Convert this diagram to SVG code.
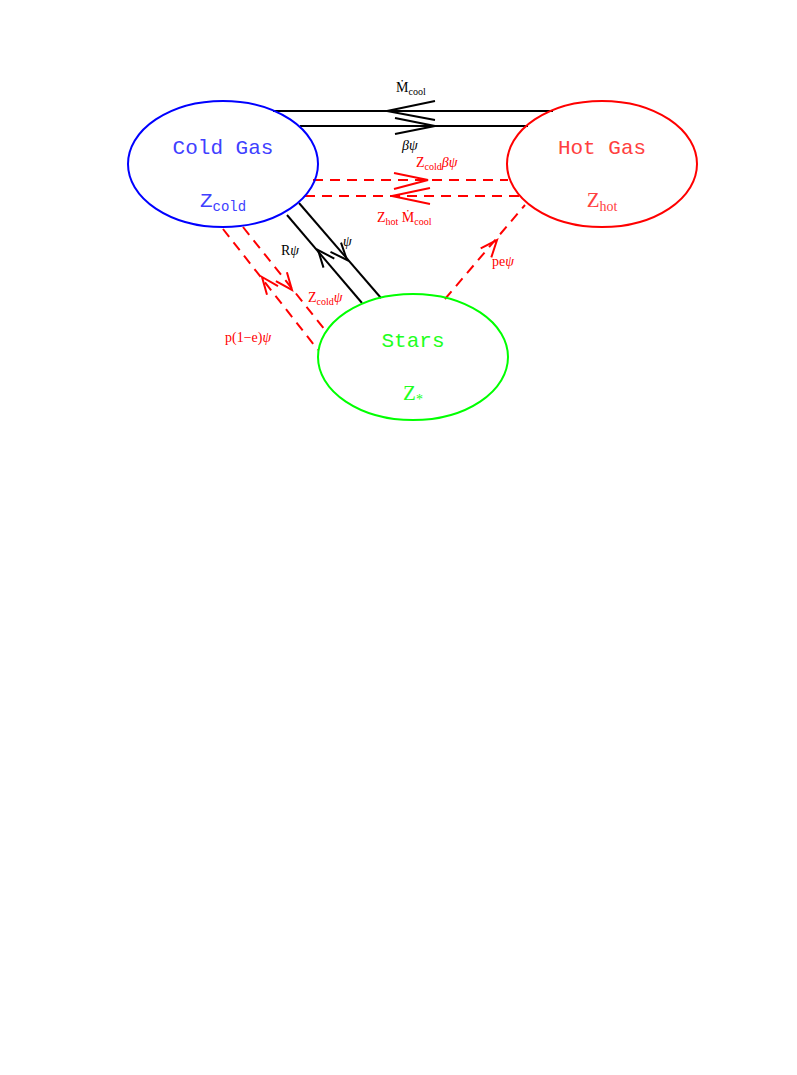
<svg xmlns="http://www.w3.org/2000/svg" width="797" height="1075" viewBox="0 0 797 1075">
<style>
.n{fill:none;stroke-width:2}
.k{stroke:#000;fill:none;stroke-width:2}
.r{stroke:#f00;fill:none;stroke-width:2}
.d{stroke-dasharray:10,7}
.t{font-family:"Liberation Mono",monospace;font-size:21px;text-anchor:middle}
.s{font-family:"Liberation Serif",serif;font-size:14px}
.sub{font-size:10px}
</style>
<rect width="797" height="1075" fill="#fff"/>
<g id="connectors">
<line class="k" x1="273" y1="111" x2="553" y2="111"/>
<polyline class="k" points="435,101 387,111 435,120"/>
<line class="k" x1="300" y1="126" x2="528" y2="126"/>
<polyline class="k" points="395,118 435,126 395,134"/>
<line class="r d" x1="313" y1="180" x2="508" y2="180"/>
<polyline class="r" points="394,173 428,180 394,189"/>
<line class="r d" x1="305" y1="196" x2="520" y2="196"/>
<polyline class="r" points="430,188 392,196 430,204"/>
<line class="k" x1="299" y1="203" x2="381" y2="298"/>
<polyline class="k" points="330.5,251.8 347,260 341,242.6"/>
<line class="k" x1="287" y1="215" x2="362" y2="303"/>
<polyline class="k" points="334.3,258.6 318,250 323.5,267.6"/>
<line class="r d" x1="223" y1="229" x2="318" y2="350"/>
<polyline class="r" points="278,286.1 262,277 267,294.7"/>
<line class="r d" x1="243" y1="227" x2="325" y2="330"/>
<polyline class="r" points="275.9,281.1 292,290 286.9,272.3"/>
<line class="r d" x1="445" y1="299" x2="525" y2="205"/>
<polyline class="r" points="491.3,257.4 497,240 480.7,248.4"/>
<text class="s" x="396" y="92">Ṁ<tspan class="sub" dy="3">cool</tspan></text>
<text class="s" x="402" y="150"><tspan font-style="italic">βψ</tspan></text>
<text class="s" x="416" y="167" fill="#f00">Z<tspan class="sub" dy="3">cold</tspan><tspan dy="-3" font-style="italic">βψ</tspan></text>
<text class="s" x="377" y="222" fill="#f00">Z<tspan class="sub" dy="3">hot</tspan><tspan dy="-3"> Ṁ</tspan><tspan class="sub" dy="3">cool</tspan></text>
<text class="s" x="281" y="255">R<tspan font-style="italic">ψ</tspan></text>
<text class="s" x="343" y="246" font-style="italic">ψ</text>
<text class="s" x="308" y="302" fill="#f00">Z<tspan class="sub" dy="3">cold</tspan><tspan dy="-3" font-style="italic">ψ</tspan></text>
<text class="s" x="225" y="342" fill="#f00">p(1−e)<tspan font-style="italic">ψ</tspan></text>
<text class="s" x="492" y="266" fill="#f00">pe<tspan font-style="italic">ψ</tspan></text>
</g>
<g id="cold">
<ellipse class="n" stroke="#00f" cx="223" cy="164" rx="95" ry="63"/>
<text class="t" x="223" y="154" fill="#4040ff">Cold Gas</text>
<text class="t" x="223" y="207" fill="#4040ff" font-family="Liberation Serif,serif">Z<tspan font-size="14" dy="4">cold</tspan></text>
</g>
<g id="hot">
<ellipse class="n" stroke="#f00" cx="602" cy="164" rx="95" ry="63"/>
<text class="t" x="602" y="154" fill="#ff4040">Hot Gas</text>
<text class="t" x="602" y="207" fill="#ff4040" style="font-family:'Liberation Serif',serif">Z<tspan font-size="14" dy="4">hot</tspan></text>
</g>
<g id="stars">
<ellipse class="n" stroke="#0f0" cx="413" cy="357" rx="95" ry="63"/>
<text class="t" x="413" y="347" fill="#20ff20">Stars</text>
<text class="t" x="413" y="400" fill="#20ff20" style="font-family:'Liberation Serif',serif">Z<tspan font-size="14" dy="4">*</tspan></text>
</g>
</svg>
